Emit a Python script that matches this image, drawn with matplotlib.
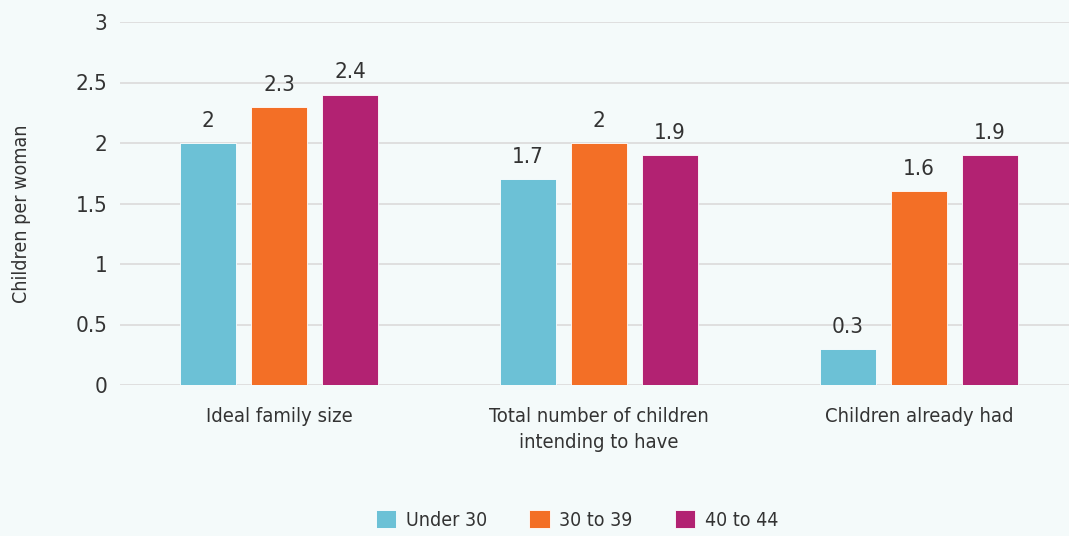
import matplotlib
matplotlib.use("Agg")
import matplotlib.pyplot as plt
import numpy as np

categories = ["Ideal family size", "Total number of children\nintending to have", "Children already had"]
series_names = ["Under 30", "30 to 39", "40 to 44"]
under30 = [2.0, 1.7, 0.3]
age30_39 = [2.3, 2.0, 1.6]
age40_44 = [2.4, 1.9, 1.9]
value_labels = [["2", "1.7", "0.3"], ["2.3", "2", "1.6"], ["2.4", "1.9", "1.9"]]
yticks = [0, 0.5, 1, 1.5, 2, 2.5, 3]
ytick_labels = ["0", "0.5", "1", "1.5", "2", "2.5", "3"]
colors = ["#6cc1d6", "#f36f26", "#b22272"]
bg = "#f4fafa"

plt.rcParams['font.family'] = ['DejaVu Sans']
plt.rcParams['font.stretch'] = 'condensed'

fig = plt.figure(figsize=(10.69, 5.36), dpi=100, facecolor=bg)
ax = fig.add_axes([120/1069, 1-385/536, 1-120/1069, (385-22)/536])
ax.set_facecolor(bg)

x = np.arange(len(categories))
width = 0.175
offset = 0.222
series = [under30, age30_39, age40_44]
for i, (vals, name, c) in enumerate(zip(series, series_names, colors)):
    bars = ax.bar(x + (i-1)*offset, vals, width, color=c, label=name, zorder=3,
                  edgecolor="white", linewidth=0.6)
    for b, lab in zip(bars, value_labels[i]):
        ax.text(b.get_x()+b.get_width()/2, b.get_height()+0.1, lab, ha="center", va="bottom",
                fontsize=16, color="#333333")

ax.set_ylim(0, 3)
ax.set_xlim(-0.497, 2.469)
ax.set_yticks(yticks)
ax.set_yticklabels(ytick_labels, fontsize=16, color="#333333")
ax.grid(axis="y", color="#dddddd", linewidth=1.3, zorder=0)
ax.set_xticks(x)
ax.set_xticklabels(categories, fontsize=14.5, color="#333333", linespacing=1.5)
ax.tick_params(axis="x", length=0, pad=15.5)
ax.tick_params(axis="y", length=0, pad=9)
for s in ax.spines.values():
    s.set_visible(False)

fig.text(22/1069, 1-214/536, "Children per woman", rotation=90, ha="center", va="center",
         fontsize=14, color="#333333")

leg = fig.legend(loc="center", bbox_to_anchor=(577/1069, 1-520/536), ncol=3, frameon=False,
                 fontsize=14, handlelength=1.05, handleheight=1.05, columnspacing=2.15, handletextpad=0.5)
for t in leg.get_texts():
    t.set_color("#333333")

fig.savefig("out.png", dpi=100, facecolor=bg)
